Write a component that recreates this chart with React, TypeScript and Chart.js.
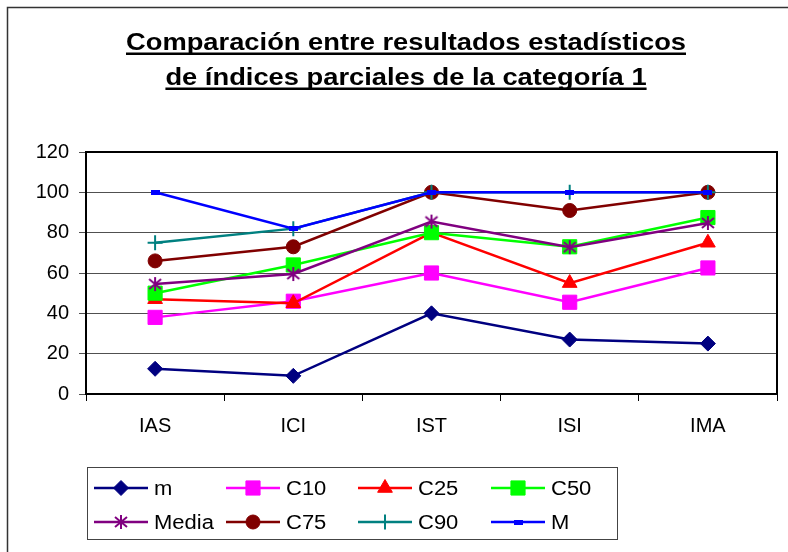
import React, { useEffect, useRef } from 'react';
import { Chart, registerables } from 'chart.js';
import { drawPoint } from 'chart.js/helpers';

Chart.register(...registerables);

const categories = ['IAS', 'ICI', 'IST', 'ISI', 'IMA'];
const mValues = [12.5, 9, 40, 27, 25];
const c10Values = [38, 46, 60, 45.5, 62.5];
const c25Values = [47, 45, 80, 55, 75];
const c50Values = [50, 64, 80, 73, 87.5];
const mediaValues = [54.5, 59.5, 85.5, 72.8, 84.8];
const c75Values = [66, 73, 100, 91, 100];
const c90Values = [75, 82, 100, 100, 100];
const bigMValues = [100, 82, 100, 100, 100];
const seriesNames = ['m', 'C10', 'C25', 'C50', 'Media', 'C75', 'C90', 'M'];
const seriesColors = ['#000080', '#FF00FF', '#FF0000', '#00FF00', '#800080', '#800000', '#008080', '#0000FF'];
const yMin = 0;
const yMax = 120;
const yStep = 20;
const titleLines = ['Comparación entre resultados estadísticos', 'de índices parciales de la categoría 1'];

const FONT = "Arial, 'Liberation Sans', sans-serif";

function makeAsterisk(color: string) {
  const c = document.createElement('canvas');
  c.width = 16;
  c.height = 16;
  const g = c.getContext('2d')!;
  g.strokeStyle = color;
  g.lineWidth = 2;
  g.lineCap = 'butt';
  g.beginPath();
  g.moveTo(8, 1);
  g.lineTo(8, 15);
  g.moveTo(2, 3);
  g.lineTo(14, 13);
  g.moveTo(14, 3);
  g.lineTo(2, 13);
  g.stroke();
  return c;
}

function makeDash(color: string) {
  const c = document.createElement('canvas');
  c.width = 9;
  c.height = 5;
  const g = c.getContext('2d')!;
  g.fillStyle = color;
  g.fillRect(0, 0, 9, 5);
  return c;
}

export default function App() {
  const ref = useRef<HTMLCanvasElement | null>(null);

  useEffect(() => {
    const canvas = ref.current;
    if (!canvas) return;
    const asterisk = makeAsterisk(seriesColors[4]);
    const dash = makeDash(seriesColors[7]);
    const values = [mValues, c10Values, c25Values, c50Values, mediaValues, c75Values, c90Values, bigMValues];
    const styles: any[] = ['rectRot', 'rect', 'triangle', 'rect', asterisk, 'circle', 'cross', dash];
    const radii = [7.5, 10, 8.5, 10, 7, 7, 7.5, 5];
    const pbw = [1, 1, 1, 1, 1, 1, 2, 1];

    const datasets = seriesNames.map((name, i) => ({
      label: name,
      data: values[i],
      borderColor: seriesColors[i],
      backgroundColor: seriesColors[i],
      borderWidth: 2.5,
      pointStyle: styles[i],
      pointRadius: radii[i],
      pointHoverRadius: radii[i],
      pointBorderWidth: pbw[i],
      pointBackgroundColor: seriesColors[i],
      pointBorderColor: seriesColors[i],
      tension: 0,
      fill: false,
      order: seriesNames.length - 1 - i,
    }));

    const decor = {
      id: 'decor',
      beforeDraw(chart: any) {
        const ctx = chart.ctx;
        ctx.save();
        ctx.fillStyle = '#fff';
        ctx.fillRect(0, 0, chart.width, chart.height);
        // outer chart border
        ctx.strokeStyle = '#333';
        ctx.lineWidth = 1.5;
        ctx.strokeRect(7.5, 7.5, 900, 700);
        // title
        ctx.fillStyle = '#000';
        ctx.font = `bold 24px ${FONT}`;
        ctx.textAlign = 'center';
        ctx.textBaseline = 'alphabetic';
        const w1 = ctx.measureText(titleLines[0]).width;
        const sx = 560 / w1;
        const cx = 406;
        const baselines = [50, 85];
        titleLines.forEach((t, i) => {
          const w = ctx.measureText(t).width * sx;
          ctx.save();
          ctx.translate(cx, baselines[i]);
          ctx.scale(sx, 1);
          ctx.fillText(t, 0, 0);
          ctx.restore();
          ctx.fillRect(cx - w / 2, baselines[i] + 2.5, w, 2.5);
        });
        ctx.restore();
      },
      beforeDatasetsDraw(chart: any) {
        const ctx = chart.ctx;
        const a = chart.chartArea;
        ctx.save();
        ctx.strokeStyle = '#000';
        ctx.lineWidth = 2;
        ctx.strokeRect(a.left, a.top, a.right - a.left, a.bottom - a.top);
        ctx.restore();
      },
      afterDraw(chart: any) {
        const ctx = chart.ctx;
        ctx.save();
        // legend box
        ctx.strokeStyle = '#444';
        ctx.lineWidth = 1;
        ctx.strokeRect(87.5, 467.5, 530, 72);
        const colX = [94, 226, 358, 491];
        const rowY = [488, 522];
        ctx.font = `20px ${FONT}`;
        ctx.textBaseline = 'middle';
        ctx.textAlign = 'left';
        chart.data.datasets.forEach((ds: any, i: number) => {
          const x = colX[i % 4];
          const y = rowY[Math.floor(i / 4)];
          ctx.strokeStyle = ds.borderColor;
          ctx.lineWidth = 2.5;
          ctx.beginPath();
          ctx.moveTo(x, y);
          ctx.lineTo(x + 54, y);
          ctx.stroke();
          ctx.fillStyle = ds.pointBackgroundColor;
          ctx.strokeStyle = ds.pointBorderColor;
          ctx.lineWidth = ds.pointBorderWidth;
          drawPoint(ctx, { pointStyle: ds.pointStyle, rotation: 0, radius: ds.pointRadius, borderWidth: ds.pointBorderWidth }, x + 27, y);
          ctx.fillStyle = '#000';
          ctx.save();
          ctx.translate(x + 60, y + 1);
          ctx.scale(1.1, 1);
          ctx.fillText(ds.label, 0, 0);
          ctx.restore();
        });
        ctx.restore();
      },
    };

    const chart = new Chart(canvas, {
      type: 'line',
      data: { labels: categories, datasets },
      options: {
        animation: false,
        responsive: false,
        maintainAspectRatio: false,
        devicePixelRatio: 1,
        layout: { padding: { left: 0, top: 152, right: 7, bottom: 0 } },
        plugins: { legend: { display: false }, title: { display: false }, tooltip: { enabled: false } },
        events: [],
        scales: {
          x: {
            type: 'category',
            offset: true,
            grid: { drawOnChartArea: false, offset: true, tickLength: 7, color: '#000', lineWidth: 1 },
            border: { display: true, color: '#000', width: 2 },
            ticks: { color: '#000', font: { family: FONT, size: 20 }, padding: 13, maxRotation: 0, autoSkip: false },
            afterFit: (s: any) => { s.height = 158; },
          },
          y: {
            min: yMin,
            max: yMax,
            grid: { color: '#505050', lineWidth: 1, tickLength: 7 },
            border: { display: true, color: '#000', width: 2 },
            ticks: { stepSize: yStep, color: '#000', font: { family: FONT, size: 20 }, padding: 10 },
            afterFit: (s: any) => { s.width = 86; },
          },
        },
      },
      plugins: [decor],
    });
    return () => chart.destroy();
  }, []);

  return (
    <div style={{ position: 'absolute', left: 0, top: 0, width: 788, height: 552 }}>
      <canvas ref={ref} width={788} height={552} style={{ display: 'block', width: 788, height: 552 }} />
    </div>
  );
}
